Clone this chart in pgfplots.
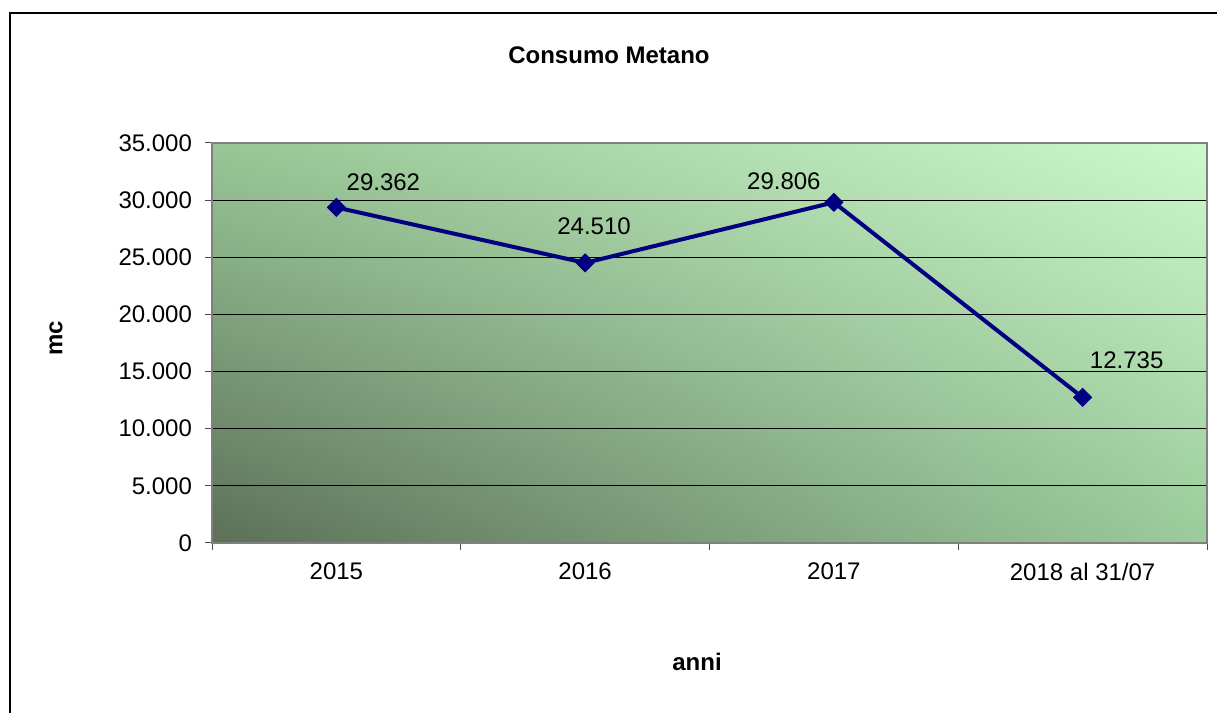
\documentclass[border=0pt]{standalone}
\usepackage{fontspec}
\setmainfont{Liberation Sans}
\usepackage{pgfplots}
\pgfplotsset{compat=1.18}
\usetikzlibrary{shadings}
\definecolor{navyline}{RGB}{0,0,128}
\definecolor{bgLL}{RGB}{92,112,88}
\definecolor{bgUL}{RGB}{152,198,150}
\definecolor{bgUR}{RGB}{204,248,204}
\definecolor{bgLR}{RGB}{155,203,155}
\begin{document}
\begin{tikzpicture}
\useasboundingbox (0,0) rectangle (608.5pt,356.5pt);
\draw[line width=0.75pt] (5pt,0) -- (5pt,350pt) -- (608.5pt,350pt);
\begin{axis}[
  at={(106pt,85pt)}, anchor=south west,
  scale only axis, width=497.5pt, height=200pt,
  xmin=-0.5, xmax=3.5, ymin=0, ymax=35000,
  xtick={0,1,2,3}, xticklabels={2015,2016,2017,2018 al 31/07},
  minor xtick={-0.5,0.5,1.5,2.5,3.5},
  ytick={0,5000,10000,15000,20000,25000,30000,35000},
  major x tick style={draw=none},
  xtick pos=bottom, ytick pos=left,
  tick align=outside,
  major tick length=3.5pt, minor tick length=3.5pt,
  tick style={gray!60!black, line width=0.5pt},
  ymajorgrids, grid style={black, line width=0.5pt},
  axis line style={draw=gray, line width=0.8pt},
  scaled y ticks=false,
  yticklabel style={xshift=-3pt, /pgf/number format/.cd, fixed, 1000 sep={.}},
  /pgf/number format/assume math mode=true,
  tick label style={font=\fontsize{12}{14}\selectfont},
  xticklabel style={yshift=-3pt},
  axis background/.style={shade, lower left=bgLL, upper left=bgUL, upper right=bgUR, lower right=bgLR},
  clip=false,
]
\addplot[navyline, line width=2pt, mark=square*, mark size=2.4pt, mark options={rotate=45, solid, fill=navyline}]
  coordinates {(0,29362) (1,24510) (2,29806) (3,12735)};
\begin{scope}[font=\fontsize{12}{14}\selectfont]
\node at (axis cs:0.189,31587) {29.362};
\node at (axis cs:1.036,27737) {24.510};
\node at (axis cs:1.799,31675) {29.806};
\node at (axis cs:3.177,16012) {12.735};
\end{scope}
\end{axis}
\node[font=\fontsize{12}{14}\selectfont\bfseries] at (304.5pt,329pt) {Consumo Metano};
\node[font=\fontsize{12}{14}\selectfont\bfseries, rotate=90] at (28pt,187.5pt) {mc};
\node[font=\fontsize{12}{14}\selectfont\bfseries] at (348.5pt,25.5pt) {anni};
\end{tikzpicture}
\end{document}
